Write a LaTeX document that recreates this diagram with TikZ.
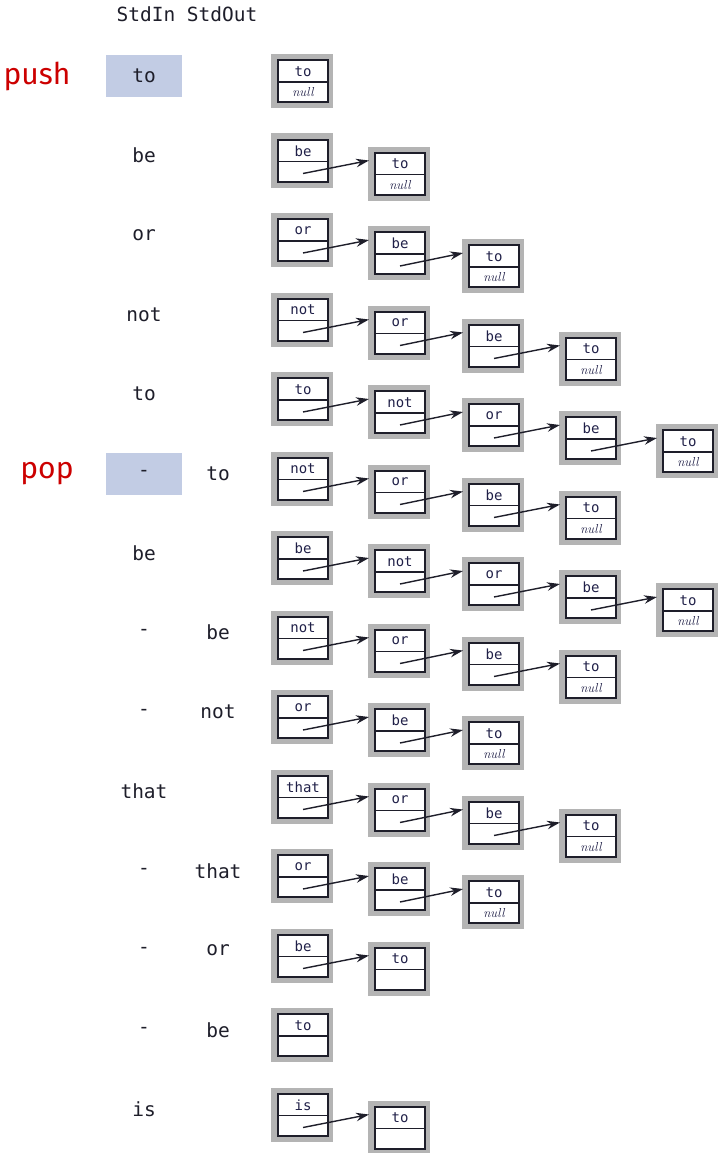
\documentclass[tikz,border=0pt]{standalone}
\usepackage{fontspec}
\setmonofont{DejaVu Sans Mono}
\newfontfamily\redfont{Fira Sans}
\usetikzlibrary{arrows.meta}
\definecolor{shade}{HTML}{B4B4B4}
\definecolor{hilite}{HTML}{C2CCE4}
\definecolor{ink}{HTML}{1E1E2A}
\definecolor{navy}{HTML}{202048}
\definecolor{redword}{HTML}{CC0000}
\tikzset{
  outerbox/.style={fill=shade, draw=none, minimum width=62pt, minimum height=54pt, inner sep=0pt},
  innerbox/.style={draw=ink, line width=2pt, fill=white},
  divline/.style={draw=ink, line width=1.6pt},
  toptext/.style={font=\fontsize{14}{15}\ttfamily, text=navy, inner sep=0pt},
  bottext/.style={font=\fontsize{13}{14}\selectfont\itshape, text=navy, inner sep=0pt},
  ptr/.style={draw=ink, line width=1.4pt, -{Stealth[length=13pt,width=8.5pt]}},
  colword/.style={font=\fontsize{19.5}{20}\ttfamily, text=ink, inner sep=0pt},
  hibox/.style={fill=hilite, draw=none, minimum width=76pt, minimum height=42pt, inner sep=0pt},
  opword/.style={font=\fontsize{30}{32}\redfont, text=redword, inner sep=0pt}
}
% #1 name, #2 left x, #3 top y, #4 key, #5 next text
\newcommand\lnode[5]{%
  \node[outerbox] (#1) at (#2+31,#3+27) {};
  \draw[innerbox] (#2+7,#3+6) rectangle (#2+57,#3+48);
  \draw[divline] (#2+7,#3+28) -- (#2+57,#3+28);
  \node[toptext] (#1t) at (#2+32,#3+17.5) {#4};
  \node[bottext] (#1b) at (#2+32,#3+38.5) {#5};
  \coordinate (#1p) at (#2+32,#3+40);
  \coordinate (#1i) at (#2+1,#3+14);
}
\begin{document}
\begin{tikzpicture}[x=1pt,y=-1pt]
\useasboundingbox (0,0) rectangle (717,1153);
\node[colword] (hdr) at (187,14) {StdIn StdOut};
% highlight boxes
\node[hibox] (hpush) at (143.5,76) {};
\node[hibox] (hpop) at (143.5,474) {};
\node[opword] (push) at (37,76) {push};
\node[opword] (pop) at (47,474) {pop};
% stdin / stdout words
\foreach \i/\a/\b in {0/to/,1/be/,2/or/,3/not/,4/to/,5/-/to,6/be/,7/-/be,8/-/not,9/that/,10/-/that,11/-/or,12/-/be,13/is/}{
  \node[colword] (in\i) at (144,{54+79.5*\i+22}) {\a};
  \node[colword] (out\i) at (218,{54+79.5*\i+22}) {\b};
}
\def\xa{271}\def\xb{368}\def\xc{462}\def\xd{559}\def\xe{656}
% row 0
\pgfmathsetmacro\t{54+79.5*0}
\lnode{r0a}{\xa}{\t}{to}{null}
% row 1
\pgfmathsetmacro\t{54+79.5*1}
\lnode{r1a}{\xa}{\t}{be}{}
\lnode{r1b}{\xb}{\t+13}{to}{null}
\draw[ptr] (r1ap) -- (r1bi);
% row 2
\pgfmathsetmacro\t{54+79.5*2}
\lnode{r2a}{\xa}{\t}{or}{}
\lnode{r2b}{\xb}{\t+13}{be}{}
\lnode{r2c}{\xc}{\t+26}{to}{null}
\draw[ptr] (r2ap) -- (r2bi);
\draw[ptr] (r2bp) -- (r2ci);
% row 3
\pgfmathsetmacro\t{54+79.5*3}
\lnode{r3a}{\xa}{\t}{not}{}
\lnode{r3b}{\xb}{\t+13}{or}{}
\lnode{r3c}{\xc}{\t+26}{be}{}
\lnode{r3d}{\xd}{\t+39}{to}{null}
\draw[ptr] (r3ap) -- (r3bi);
\draw[ptr] (r3bp) -- (r3ci);
\draw[ptr] (r3cp) -- (r3di);
% row 4
\pgfmathsetmacro\t{54+79.5*4}
\lnode{r4a}{\xa}{\t}{to}{}
\lnode{r4b}{\xb}{\t+13}{not}{}
\lnode{r4c}{\xc}{\t+26}{or}{}
\lnode{r4d}{\xd}{\t+39}{be}{}
\lnode{r4e}{\xe}{\t+52}{to}{null}
\draw[ptr] (r4ap) -- (r4bi);
\draw[ptr] (r4bp) -- (r4ci);
\draw[ptr] (r4cp) -- (r4di);
\draw[ptr] (r4dp) -- (r4ei);
% row 5
\pgfmathsetmacro\t{54+79.5*5}
\lnode{r5a}{\xa}{\t}{not}{}
\lnode{r5b}{\xb}{\t+13}{or}{}
\lnode{r5c}{\xc}{\t+26}{be}{}
\lnode{r5d}{\xd}{\t+39}{to}{null}
\draw[ptr] (r5ap) -- (r5bi);
\draw[ptr] (r5bp) -- (r5ci);
\draw[ptr] (r5cp) -- (r5di);
% row 6
\pgfmathsetmacro\t{54+79.5*6}
\lnode{r6a}{\xa}{\t}{be}{}
\lnode{r6b}{\xb}{\t+13}{not}{}
\lnode{r6c}{\xc}{\t+26}{or}{}
\lnode{r6d}{\xd}{\t+39}{be}{}
\lnode{r6e}{\xe}{\t+52}{to}{null}
\draw[ptr] (r6ap) -- (r6bi);
\draw[ptr] (r6bp) -- (r6ci);
\draw[ptr] (r6cp) -- (r6di);
\draw[ptr] (r6dp) -- (r6ei);
% row 7
\pgfmathsetmacro\t{54+79.5*7}
\lnode{r7a}{\xa}{\t}{not}{}
\lnode{r7b}{\xb}{\t+13}{or}{}
\lnode{r7c}{\xc}{\t+26}{be}{}
\lnode{r7d}{\xd}{\t+39}{to}{null}
\draw[ptr] (r7ap) -- (r7bi);
\draw[ptr] (r7bp) -- (r7ci);
\draw[ptr] (r7cp) -- (r7di);
% row 8
\pgfmathsetmacro\t{54+79.5*8}
\lnode{r8a}{\xa}{\t}{or}{}
\lnode{r8b}{\xb}{\t+13}{be}{}
\lnode{r8c}{\xc}{\t+26}{to}{null}
\draw[ptr] (r8ap) -- (r8bi);
\draw[ptr] (r8bp) -- (r8ci);
% row 9
\pgfmathsetmacro\t{54+79.5*9}
\lnode{r9a}{\xa}{\t}{that}{}
\lnode{r9b}{\xb}{\t+13}{or}{}
\lnode{r9c}{\xc}{\t+26}{be}{}
\lnode{r9d}{\xd}{\t+39}{to}{null}
\draw[ptr] (r9ap) -- (r9bi);
\draw[ptr] (r9bp) -- (r9ci);
\draw[ptr] (r9cp) -- (r9di);
% row 10
\pgfmathsetmacro\t{54+79.5*10}
\lnode{r10a}{\xa}{\t}{or}{}
\lnode{r10b}{\xb}{\t+13}{be}{}
\lnode{r10c}{\xc}{\t+26}{to}{null}
\draw[ptr] (r10ap) -- (r10bi);
\draw[ptr] (r10bp) -- (r10ci);
% row 11
\pgfmathsetmacro\t{54+79.5*11}
\lnode{r11a}{\xa}{\t}{be}{}
\lnode{r11b}{\xb}{\t+13}{to}{}
\draw[ptr] (r11ap) -- (r11bi);
% row 12
\pgfmathsetmacro\t{54+79.5*12}
\lnode{r12a}{\xa}{\t}{to}{}
% row 13
\pgfmathsetmacro\t{54+79.5*13}
\lnode{r13a}{\xa}{\t}{is}{}
\lnode{r13b}{\xb}{\t+13}{to}{}
\draw[ptr] (r13ap) -- (r13bi);
\end{tikzpicture}
\end{document}
